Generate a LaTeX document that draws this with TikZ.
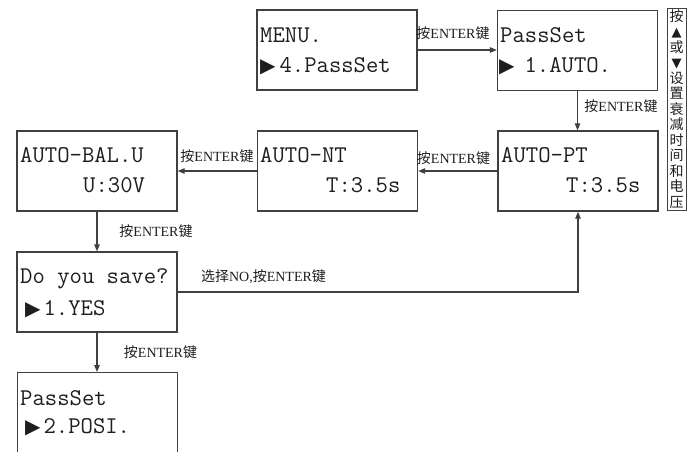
\documentclass[tikz,border=0pt]{standalone}
\usepackage{fontspec}
\setmainfont{Liberation Serif}
\newfontfamily\zhfont{Noto Sans CJK SC}
\newfontfamily\symfont{DejaVu Sans}
\usetikzlibrary{arrows.meta}
\newcommand\zh[1]{{\zhfont #1}}
\newcommand\tri{{\symfont\fontsize{20}{20}\selectfont ▶}}
\newcommand\upt{{\symfont\fontsize{13}{13}\selectfont ▲}}
\newcommand\dnt{{\symfont\fontsize{13}{13}\selectfont ▼}}
\definecolor{ln}{HTML}{404040}
\definecolor{tx}{HTML}{1E1E1E}
\begin{document}
\begin{tikzpicture}[x=1pt,y=-1pt,
  box/.style={draw=ln,line width=1.4pt,minimum width=160pt,minimum height=80pt,inner sep=0pt},
  scr/.style={anchor=base west,inner sep=0pt,text=tx,font=\ttfamily\fontsize{24}{24}\selectfont},
  lab/.style={inner sep=0pt,text=tx,font=\fontsize{14}{14}\selectfont},
  conn/.style={draw=ln,line width=1.2pt,-{Triangle[length=7pt,width=5.5pt]}}]
\useasboundingbox (0,0) rectangle (688,451);
\clip (0,0) rectangle (688,451);
\fill[white] (0,0) rectangle (688,451);
% boxes
\node[box] (menu) at (337,50) {};
\node[box] (pset) at (577.5,50.5) {};
\node[box] (apt) at (578,171) {};
\node[box] (ant) at (337.5,171) {};
\node[box] (abal) at (97,171) {};
\node[box] (save) at (97,292) {};
\node[box,minimum height=100pt,anchor=north] (posi) at (97.5,372) {};
% screen texts
\node[scr] (menu1) at (260,42) {MENU.};
\node[scr] (menu2) at (260,72) {\tri\hspace{4pt}4.PassSet};
\node[scr] (pset1) at (500,42) {PassSet};
\node[scr] (pset2) at (499,72) {\tri\hspace{10pt}1.AUTO.};
\node[scr] (apt1) at (501,162) {AUTO-PT};
\node[scr] (apt2) at (566,192) {T:3.5s};
\node[scr] (ant1) at (260,162) {AUTO-NT};
\node[scr] (ant2) at (326,192) {T:3.5s};
\node[scr] (abal1) at (20,162) {AUTO-BAL.U};
\node[scr] (abal2) at (83,192) {U:30V};
\node[scr] (save1) at (20,283) {Do you save?};
\node[scr] (save2) at (25,315) {\tri\hspace{3pt}1.YES};
\node[scr] (posi1) at (20,405) {PassSet};
\node[scr] (posi2) at (25,433) {\tri\hspace{3pt}2.POSI.};
% connectors
\draw[conn] (menu.east) -- (menu.east -| pset.west);
\draw[conn] (pset.south) -- (pset.south |- apt.north);
\draw[conn] (apt.west) -- (ant.east);
\draw[conn] (ant.west) -- (abal.east);
\draw[conn] (abal.south) -- (save.north);
\draw[conn] (save.east) -| (apt.south);
\draw[conn] (save.south) -- (save.south |- posi.north);
% labels
\node[lab] (t1) at (453,33) {\zh{按}ENTER\zh{键}};
\node[lab] (t2) at (621,106) {\zh{按}ENTER\zh{键}};
\node[lab] (t3) at (453.5,158) {\zh{按}ENTER\zh{键}};
\node[lab] (t4) at (217,156) {\zh{按}ENTER\zh{键}};
\node[lab] (t5) at (156,231) {\zh{按}ENTER\zh{键}};
\node[lab] (t6) at (263.5,277) {\zh{选择}NO,\zh{按}ENTER\zh{键}};
\node[lab] (t7) at (160.5,352) {\zh{按}ENTER\zh{键}};
% side note
\node[draw=ln,line width=1pt,minimum width=19pt,minimum height=202pt,inner sep=0pt,
  align=center,text=tx,font=\zhfont\fontsize{14}{15.5}\selectfont] (side) at (676.5,109)
  {按\\\upt\\或\\\dnt\\设\\置\\衰\\减\\时\\间\\和\\电\\压};
\end{tikzpicture}
\end{document}
